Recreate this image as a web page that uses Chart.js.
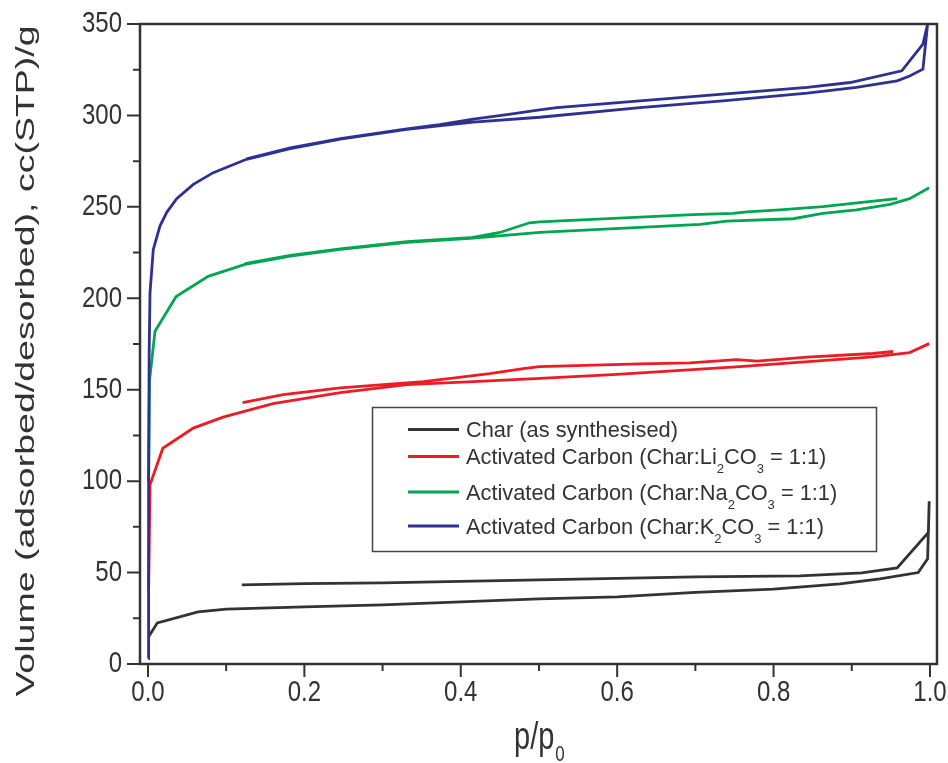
<!DOCTYPE html>
<html>
<head>
<meta charset="utf-8">
<script src="https://cdn.jsdelivr.net/npm/chart.js@4.4.1/dist/chart.umd.min.js"></script>
<style>
  html, body { margin: 0; padding: 0; background: #fff; }
  #wrap { width: 948px; height: 763px; position: relative; }
</style>
</head>
<body>
<div id="wrap"><canvas id="chart"></canvas></div>
<script>
// N2 isotherms: p/p0 (x) vs volume cc(STP)/g (y), adsorption then desorption branch
const charAdsX = [0.001, 0.012, 0.064, 0.1, 0.2, 0.3, 0.4, 0.5, 0.6, 0.7, 0.8, 0.885, 0.936, 0.985, 0.997, 0.999];
const charAdsY = [15, 22.5, 28.5, 30, 31.2, 32.3, 34, 35.6, 36.7, 39.2, 41, 43.8, 46.5, 50, 57.5, 89];
const charDesX = [0.999, 0.998, 0.958, 0.913, 0.834, 0.7, 0.6, 0.5, 0.4, 0.3, 0.2, 0.12];
const charDesY = [89, 72, 52.6, 49.8, 48.2, 47.6, 46.8, 46, 45.2, 44.4, 44, 43.3];

const liAdsX = [0.0008, 0.0026, 0.019, 0.058, 0.096, 0.16, 0.246, 0.331, 0.416, 0.501, 0.6, 0.757, 0.927, 0.974, 0.999];
const liAdsY = [40, 98, 118, 129, 135, 142.4, 148.4, 152.8, 154.4, 156.2, 158.4, 162.6, 168, 170.3, 175.2];
const liDesX = [0.953, 0.927, 0.843, 0.779, 0.753, 0.693, 0.629, 0.501, 0.48, 0.437, 0.395, 0.352, 0.246, 0.173, 0.121];
const liDesY = [170.9, 169.8, 167.8, 165.6, 166.5, 164.7, 164.1, 162.6, 161.5, 158.8, 156.6, 154.4, 151, 147.3, 142.9];

const naAdsX = [0.0008, 0.002, 0.009, 0.036, 0.077, 0.124, 0.182, 0.246, 0.331, 0.412, 0.501, 0.706, 0.74, 0.825, 0.863, 0.906, 0.949, 0.974, 0.999];
const naAdsY = [100, 155, 182, 201, 212, 218.5, 223, 226.7, 230.6, 232.8, 236, 240.4, 242.2, 243.5, 246.4, 248.3, 251.4, 254.5, 260.5];
const naDesX = [0.958, 0.91, 0.863, 0.808, 0.766, 0.748, 0.697, 0.501, 0.488, 0.45, 0.412, 0.331, 0.246, 0.182, 0.124];
const naDesY = [254.5, 252.3, 250.1, 248.3, 247.2, 246.4, 245.8, 241.8, 241.3, 236, 233.1, 231, 227, 223.5, 219];

const kAdsX = [0.0004, 0.0008, 0.0015, 0.0026, 0.0068, 0.0153, 0.024, 0.0367, 0.058, 0.0835, 0.126, 0.182, 0.246, 0.331, 0.416, 0.501, 0.629, 0.735, 0.843, 0.906, 0.958, 0.974, 0.991, 0.997];
const kAdsY = [3, 100, 170, 203, 226.7, 239.5, 247, 254.5, 262.3, 268.7, 276, 281.9, 287, 292.4, 296.3, 299, 304.3, 308, 312.2, 315.3, 318.9, 321.6, 325.3, 350];
const kDesX = [0.997, 0.991, 0.964, 0.898, 0.843, 0.735, 0.629, 0.523, 0.501, 0.459, 0.416, 0.373, 0.331, 0.246, 0.182, 0.126];
const kDesY = [350, 339, 324.4, 318, 315.3, 311.6, 308, 304.3, 303, 300.4, 298, 295, 292.6, 287.3, 282.2, 276.2];

const seriesNames = [
  'Char (as synthesised)',
  'Activated Carbon (Char:Li_2CO_3 = 1:1)',
  'Activated Carbon (Char:Na_2CO_3 = 1:1)',
  'Activated Carbon (Char:K_2CO_3 = 1:1)'
];
const seriesColors = ['#333333', '#ed1c24', '#00a650', '#2e3192'];

const xTicks = [0, 0.2, 0.4, 0.6, 0.8, 1.0];
const xMinor = [0.1, 0.3, 0.5, 0.7, 0.9];
const yTicks = [0, 50, 100, 150, 200, 250, 300, 350];
const yMinor = [25, 75, 125, 175, 225, 275, 325];

const FONT = '"Liberation Sans", Arial, Helvetica, sans-serif';
const INK = '#333333';

// adsorption points, a gap, then desorption points
function branchPoints(ax, ay, dx, dy) {
  const pts = ax.map((x, i) => ({ x: x, y: ay[i] }));
  pts.push({ x: dx[0], y: null });
  return pts.concat(dx.map((x, i) => ({ x: x, y: dy[i] })));
}

const allData = [
  branchPoints(charAdsX, charAdsY, charDesX, charDesY),
  branchPoints(liAdsX, liAdsY, liDesX, liDesY),
  branchPoints(naAdsX, naAdsY, naDesX, naDesY),
  branchPoints(kAdsX, kAdsY, kDesX, kDesY)
];

const datasets = allData.map((d, i) => ({
  label: seriesNames[i].replace(/_/g, ''),
  data: d,
  borderColor: seriesColors[i],
  backgroundColor: seriesColors[i],
  borderWidth: 2.8,
  pointRadius: 0,
  tension: 0,
  spanGaps: false,
  order: 3 - i
}));

function stretchText(ctx, text, x, y, align, base, sx, sy, size) {
  ctx.save();
  ctx.translate(x, y);
  ctx.scale(sx, sy);
  ctx.font = size + 'px ' + FONT;
  ctx.textAlign = align;
  ctx.textBaseline = base;
  ctx.fillText(text, 0, 0);
  ctx.restore();
}

// text with _n subscripts, left aligned at baseline y
function subText(ctx, str, x, y, size, subSize, drop) {
  const parts = str.split(/_(\d)/);
  parts.forEach((p, i) => {
    const sub = i % 2 === 1;
    ctx.font = (sub ? subSize : size) + 'px ' + FONT;
    ctx.fillText(p, x, sub ? y + drop : y);
    x += ctx.measureText(p).width;
  });
}

const framePlugin = {
  id: 'frame',
  afterDatasetsDraw(chart) {
    const { ctx, chartArea: a, scales: { x, y } } = chart;
    ctx.save();
    ctx.strokeStyle = INK;
    ctx.fillStyle = INK;
    ctx.lineWidth = 2.5;
    ctx.strokeRect(a.left, a.top, a.right - a.left, a.bottom - a.top);

    ctx.lineWidth = 2;
    ctx.beginPath();
    xTicks.forEach(v => { const px = x.getPixelForValue(v); ctx.moveTo(px, a.bottom); ctx.lineTo(px, a.bottom + 13); });
    xMinor.forEach(v => { const px = x.getPixelForValue(v); ctx.moveTo(px, a.bottom); ctx.lineTo(px, a.bottom + 7); });
    yTicks.forEach(v => { const py = y.getPixelForValue(v); ctx.moveTo(a.left, py); ctx.lineTo(a.left - 13, py); });
    yMinor.forEach(v => { const py = y.getPixelForValue(v); ctx.moveTo(a.left, py); ctx.lineTo(a.left - 7, py); });
    ctx.stroke();

    xTicks.forEach(v => stretchText(ctx, v.toFixed(1), x.getPixelForValue(v), a.bottom + 29, 'center', 'middle', 1, 1.25, 24));
    yTicks.forEach(v => stretchText(ctx, String(v), a.left - 18, y.getPixelForValue(v), 'right', 'middle', 1, 1.25, 24));

    // y title, elongated along its direction
    ctx.save();
    ctx.translate(27, 361);
    ctx.rotate(-Math.PI / 2);
    ctx.scale(1.5, 1);
    ctx.font = '25px ' + FONT;
    ctx.textAlign = 'center';
    ctx.textBaseline = 'middle';
    ctx.fillText('Volume (adsorbed/desorbed), cc(STP)/g', 0, 0);
    ctx.restore();

    // x title p/p0
    ctx.save();
    ctx.translate(514, 760);
    ctx.scale(1, 1.35);
    ctx.font = '29px ' + FONT;
    ctx.textBaseline = 'alphabetic';
    ctx.fillText('p/p', 0, -8);
    const w = ctx.measureText('p/p').width;
    ctx.font = '17px ' + FONT;
    ctx.fillText('0', w + 1, 1);
    ctx.restore();

    // legend
    const bx = 372.5, by = 407.5, bw = 504, bh = 144;
    ctx.fillStyle = '#fff';
    ctx.fillRect(bx, by, bw, bh);
    ctx.strokeStyle = '#444';
    ctx.lineWidth = 1.5;
    ctx.strokeRect(bx, by, bw, bh);
    const rows = [429.5, 456.5, 492, 526];
    rows.forEach((ry, i) => {
      ctx.strokeStyle = seriesColors[i];
      ctx.lineWidth = 3;
      ctx.beginPath();
      ctx.moveTo(408, ry);
      ctx.lineTo(459, ry);
      ctx.stroke();
      ctx.fillStyle = INK;
      ctx.textAlign = 'left';
      ctx.textBaseline = 'alphabetic';
      subText(ctx, seriesNames[i], 466, ry + 7.8, 21.8, 13, 9);
    });
    ctx.restore();
  }
};

new Chart(document.getElementById('chart'), {
  type: 'line',
  data: { datasets: datasets },
  options: {
    responsive: true,
    maintainAspectRatio: false,
    animation: false,
    layout: { padding: { top: 24, right: 11, left: 0, bottom: 0 } },
    plugins: { legend: { display: false }, tooltip: { enabled: false } },
    scales: {
      x: {
        type: 'linear', min: -0.0102, max: 1.009,
        grid: { display: false }, border: { display: false }, ticks: { display: false },
        afterFit(s) { s.height = 99; }
      },
      y: {
        type: 'linear', min: 0, max: 350,
        grid: { display: false }, border: { display: false }, ticks: { display: false },
        afterFit(s) { s.width = 140; }
      }
    }
  },
  plugins: [framePlugin]
});
</script>
</body>
</html>
